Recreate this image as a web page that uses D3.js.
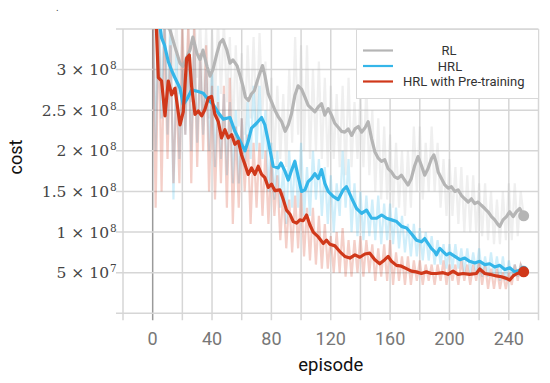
<!DOCTYPE html>
<html>
<head>
<meta charset="utf-8">
<script src="https://cdn.jsdelivr.net/npm/d3@7"></script>
<style>
  body { margin: 0; background: #fff; }
  svg { display: block; }
</style>
</head>
<body>
<script>
// cost values are in units of 1e8
var rawStep = 2; // raw series hold one value every 2 episodes, starting at episode 0

var rlRaw = [3.8, 2.5, 3.7, 2.8, 3.6, 2.7, 3.7, 2.9, 3.6, 2.7, 3.6, 2.6, 3.5, 2.6, 3.7, 2.9, 3.6, 2.5, 3.5, 2.4,
  3.5, 2.6, 3.6, 2.7, 3.6, 2.6, 3.4, 2.2, 3.3, 2.3, 3.2, 2.2, 3.3, 2.4, 3.4, 2.3, 3.45, 2.5, 3.1, 2.0,
  2.9, 1.9, 2.8, 1.9, 2.7, 1.8, 3.0, 2.1, 3.4, 2.2, 3.3, 2.0, 3.3, 1.9, 3.0, 2.0, 3.1, 1.9, 2.9, 1.8,
  2.8, 1.9, 2.7, 1.8, 2.8, 1.7, 2.9, 1.8, 2.6, 1.9, 2.7, 1.8, 2.8, 1.7, 2.5, 1.5, 2.4, 1.4, 2.3, 1.4,
  2.2, 1.3, 2.1, 1.3, 2.0, 1.2, 2.0, 1.3, 2.3, 1.5, 2.3, 1.4, 2.1, 1.5, 2.3, 1.5, 2.1, 1.3, 1.9, 1.2,
  1.9, 1.2, 1.8, 1.1, 1.8, 1.0, 1.7, 1.0, 1.7, 1.0, 1.6, 0.95, 1.6, 0.9, 1.5, 0.85, 1.4, 0.85, 1.5, 0.9,
  1.6, 0.9, 1.6, 0.95, 1.5, 1.2];

var hrlRaw = [3.8, 2.0, 3.6, 2.4, 3.7, 2.2, 3.5, 1.4, 3.2, 1.9, 3.0, 2.2, 3.2, 2.0, 3.3, 2.1, 3.1, 2.2, 3.0, 2.0,
  3.0, 1.8, 2.8, 1.9, 2.7, 1.7, 2.6, 1.6, 2.5, 1.6, 2.4, 1.8, 2.6, 1.9, 2.8, 2.0, 2.8, 1.9, 2.5, 1.5,
  2.1, 1.4, 2.0, 1.3, 1.8, 1.1, 2.0, 1.3, 1.9, 1.3, 2.1, 1.2, 1.8, 1.2, 2.0, 1.4, 1.9, 1.2, 1.8, 1.1,
  1.7, 1.0, 1.6, 1.2, 2.0, 1.3, 1.9, 1.0, 1.6, 0.95, 1.5, 0.9, 1.45, 0.95, 1.4, 0.9, 1.45, 0.85, 1.35, 0.9,
  1.35, 0.85, 1.3, 0.8, 1.2, 0.75, 1.1, 0.7, 1.1, 0.7, 1.05, 0.65, 1.0, 0.65, 0.95, 0.6, 0.9, 0.6, 0.85, 0.55,
  0.85, 0.55, 0.85, 0.55, 0.8, 0.5, 0.8, 0.5, 0.75, 0.5, 0.8, 0.45, 0.7, 0.45, 0.75, 0.45, 0.7, 0.4, 0.7, 0.4,
  0.65, 0.45, 0.6, 0.45, 0.6, 0.55];

var preRaw = [3.8, 1.3, 3.6, 1.5, 3.5, 1.9, 3.3, 1.6, 2.8, 1.6, 3.5, 2.2, 3.6, 1.6, 3.5, 1.8, 3.2, 2.0, 3.3, 1.5,
  2.8, 1.4, 2.6, 1.6, 2.8, 1.3, 2.9, 1.1, 2.3, 1.3, 2.4, 1.5, 2.2, 1.1, 2.1, 1.3, 2.1, 1.2, 2.0, 1.1,
  1.9, 1.2, 1.7, 0.9, 1.5, 0.8, 1.4, 0.75, 1.45, 0.8, 1.5, 0.7, 1.3, 0.65, 1.3, 0.6, 1.2, 0.55, 1.1, 0.55,
  0.95, 0.5, 1.0, 0.5, 1.05, 0.45, 0.9, 0.45, 0.9, 0.5, 0.95, 0.45, 0.9, 0.5, 0.85, 0.4, 0.8, 0.45, 0.85, 0.4,
  0.9, 0.35, 0.75, 0.4, 0.7, 0.35, 0.7, 0.35, 0.65, 0.4, 0.65, 0.35, 0.6, 0.4, 0.6, 0.35, 0.6, 0.4, 0.65, 0.35,
  0.6, 0.4, 0.6, 0.35, 0.65, 0.4, 0.6, 0.35, 0.6, 0.4, 0.65, 0.35, 0.6, 0.3, 0.55, 0.3, 0.55, 0.3, 0.5, 0.3,
  0.5, 0.35, 0.6, 0.4, 0.6, 0.5];

// smoothed curves as [episode, cost]
var rlSmooth = [[7, 3.8], [9, 3.55], [11.6, 3.49], [15, 3.28], [18.4, 3.08], [20.4, 3.04], [23, 3.15], [25.1, 3.24],
  [27.1, 3.40], [29.8, 3.2], [31.9, 3.12], [33.9, 3.24], [36.6, 3.04], [38.6, 2.92], [40.6, 3.0], [43.3, 3.2],
  [45.3, 3.33], [47.3, 3.37], [50, 3.24], [52.1, 3.08], [54.1, 3.12], [56.8, 3.05], [58.8, 2.93], [60.8, 2.80],
  [62.5, 2.66], [64.5, 2.62], [66.5, 2.70], [68.5, 2.74], [70.5, 2.86], [72.3, 2.96], [74, 3.05], [75.7, 2.92],
  [77.9, 2.70], [80.2, 2.60], [82.4, 2.50], [84.6, 2.42], [86.9, 2.36], [89.3, 2.24], [91.4, 2.32], [93.6, 2.46],
  [95.8, 2.68], [98, 2.80], [100.3, 2.76], [102.6, 2.66], [104.8, 2.56], [107.1, 2.52], [109.3, 2.48], [111.6, 2.54],
  [113.8, 2.58], [116, 2.44], [118.3, 2.52], [120.5, 2.44], [122.7, 2.34], [125, 2.29], [127.3, 2.24], [129.5, 2.23],
  [131.8, 2.27], [134.1, 2.19], [136.3, 2.27], [138.6, 2.30], [140.8, 2.23], [143, 2.28], [145.2, 2.36], [147.5, 2.15],
  [149.7, 1.99], [152, 1.91], [154.2, 1.87], [156.4, 1.89], [158.7, 1.78], [160.9, 1.74], [163.1, 1.68], [165.3, 1.66],
  [167.6, 1.70], [169.8, 1.64], [172.1, 1.58], [174.3, 1.66], [176.6, 1.82], [178.8, 1.93], [181.1, 1.82], [183.3, 1.70],
  [185.5, 1.78], [187.8, 1.90], [189.5, 1.95], [191, 1.86], [192.4, 1.74], [194.6, 1.66], [196.9, 1.58], [199.1, 1.54],
  [201.3, 1.56], [203.6, 1.50], [205.8, 1.52], [208.1, 1.45], [210.3, 1.41], [212.6, 1.37], [214.8, 1.41], [217, 1.35],
  [219.3, 1.37], [221.5, 1.33], [223.8, 1.29], [226, 1.25], [228.3, 1.19], [230.5, 1.15], [232.8, 1.09], [233.9, 1.07],
  [236.1, 1.15], [238.4, 1.19], [240.6, 1.25], [242.9, 1.19], [245.1, 1.25], [247.4, 1.29], [250, 1.20]];

var hrlSmooth = [[3, 3.8], [6, 3.39], [8, 3.3], [10.5, 3.1], [13, 2.98], [15, 2.9], [18.4, 2.77], [20.6, 2.57],
  [22.9, 2.63], [26.2, 2.75], [30.7, 2.73], [34.1, 2.71], [37.5, 2.63], [40.8, 2.57], [44.2, 2.47], [47.6, 2.39],
  [52.1, 2.41], [55.4, 2.24], [58.8, 2.12], [62.2, 2.0], [64.4, 2.12], [66.6, 2.28], [70, 2.34], [73.4, 2.41],
  [75.6, 2.32], [77.9, 2.12], [81.2, 1.81], [84.6, 1.79], [86.5, 1.85], [89.1, 1.75], [91.4, 1.64], [93.6, 1.76],
  [95.8, 1.87], [98.1, 1.68], [100.3, 1.50], [102.6, 1.52], [104.8, 1.62], [107.1, 1.66], [109.3, 1.72], [111.6, 1.66],
  [113.8, 1.77], [116, 1.60], [118.3, 1.50], [121.6, 1.44], [125, 1.40], [128.4, 1.52], [130.6, 1.56], [134, 1.42],
  [137.4, 1.29], [140.8, 1.23], [144.1, 1.27], [147.5, 1.17], [150.9, 1.17], [154.3, 1.21], [157.6, 1.17], [161, 1.15],
  [164.4, 1.13], [167.7, 1.07], [171.1, 1.05], [174.4, 0.98], [177.8, 0.90], [181.1, 0.88], [183.3, 0.92], [185.5, 0.86],
  [187.8, 0.80], [190, 0.76], [191.2, 0.72], [193.5, 0.80], [195.7, 0.76], [198, 0.72], [200.2, 0.74], [203.6, 0.70],
  [207, 0.66], [210.3, 0.68], [213.6, 0.64], [217, 0.62], [220.4, 0.64], [223.8, 0.60], [227.1, 0.61], [230.5, 0.57],
  [233.9, 0.59], [237.3, 0.54], [240.6, 0.56], [244, 0.51], [247.4, 0.53], [250, 0.53]];

var preSmooth = [[1, 3.8], [2.5, 3.5], [3.8, 2.9], [6, 2.86], [8.3, 2.43], [10.5, 2.86], [12.8, 2.69], [15, 2.77],
  [18.4, 2.32], [20.6, 2.48], [22.9, 3.14], [24.7, 3.18], [26.2, 2.8], [28.5, 2.45], [30.7, 2.49], [33, 2.43],
  [35.2, 2.51], [37.5, 2.65], [39.7, 2.67], [41.9, 2.45], [44.2, 2.36], [46.4, 2.16], [48.7, 2.26], [50.9, 2.16],
  [53.2, 2.2], [55.4, 2.08], [57.7, 2.12], [59.9, 1.95], [62.2, 1.83], [64.4, 1.71], [66.6, 1.79], [68.9, 1.71],
  [71.1, 1.81], [73.4, 1.71], [75.6, 1.67], [77.9, 1.55], [80.1, 1.59], [82.4, 1.51], [85.7, 1.52], [88, 1.40],
  [90.2, 1.27], [92.5, 1.22], [94.7, 1.13], [97, 1.11], [99.2, 1.15], [101.4, 1.14], [103.7, 1.21], [105.9, 1.09],
  [108.2, 1.0], [111.6, 0.94], [115, 0.86], [117.2, 0.90], [119.4, 0.85], [122.8, 0.83], [126.1, 0.76], [129.5, 0.70],
  [132.9, 0.68], [136.3, 0.72], [139.6, 0.69], [143, 0.73], [146.3, 0.74], [149.7, 0.66], [153, 0.61], [156.4, 0.66],
  [158.7, 0.70], [160.9, 0.64], [164.3, 0.59], [167.6, 0.58], [171, 0.55], [174.3, 0.52], [177.7, 0.51], [181.1, 0.49],
  [184.4, 0.51], [187.8, 0.49], [191.2, 0.49], [195.7, 0.50], [199, 0.48], [202.4, 0.52], [205.8, 0.48], [209.2, 0.49],
  [213.6, 0.48], [218.1, 0.49], [220.4, 0.545], [223.8, 0.49], [227.1, 0.48], [231.6, 0.46], [235, 0.45], [238.4, 0.43],
  [240.6, 0.41], [242.9, 0.46], [245.6, 0.49], [248.5, 0.50], [250, 0.51]];

var seriesNames = ["RL", "HRL", "HRL with Pre-training"];
var seriesColors = ["#b5b5b5", "#35b6e9", "#d0381a"];

var xGridValues = d3.range(-20, 261, 20);
var xTickLabels = [0, 40, 80, 120, 160, 200, 240];
var yTickValues = [0.5, 1, 1.5, 2, 2.5, 3];
var yTickMantissa = ["5", "1", "1.5", "2", "2.5", "3"];
var yTickExponent = ["7", "8", "8", "8", "8", "8"];

var totalWidth = 550;
var totalHeight = 383;
var gridColor = "#d6d6d6";

var svg = d3.select("body").append("svg")
    .attr("width", totalWidth)
    .attr("height", totalHeight)
    .style("font-family", "Roboto, sans-serif");

var xScale = d3.scaleLinear().domain([-20, 260]).range([123, 538.5]);
var yScale = d3.scaleLinear().domain([0, 3.5]).range([313.3, 29]);

//grid lines, they run a bit past the frame as tick marks
svg.append("g").selectAll("line")
    .data(xGridValues)
    .enter()
    .append("line")
    .attr("x1", d => xScale(d))
    .attr("x2", d => xScale(d))
    .attr("y1", yScale(3.5))
    .attr("y2", yScale(0) + 7)
    .attr("stroke", d => d === 0 ? "#9a9a9a" : gridColor)
    .attr("stroke-width", 1.5);

svg.append("g").selectAll("line")
    .data([0].concat(yTickValues, [3.5]))
    .enter()
    .append("line")
    .attr("x1", xScale(-20) - 7)
    .attr("x2", xScale(260))
    .attr("y1", d => yScale(d))
    .attr("y2", d => yScale(d))
    .attr("stroke", gridColor)
    .attr("stroke-width", 1.5);

// y tick labels "m × 10^e"
var yLabels = svg.append("g")
    .style("font-family", "'DejaVu Serif', serif")
    .attr("fill", "#444")
    .selectAll("text")
    .data(yTickValues)
    .enter()
    .append("text")
    .attr("x", 109)
    .attr("y", d => yScale(d) + 5.5)
    .attr("text-anchor", "end")
    .style("font-size", "15.5px");
yLabels.append("tspan").text((d, i) => yTickMantissa[i] + " × 10");
yLabels.append("tspan")
    .attr("x", 110)
    .attr("text-anchor", "start")
    .attr("dy", -6)
    .style("font-size", "10.5px")
    .text((d, i) => yTickExponent[i]);

// x tick labels
svg.append("g").selectAll("text")
    .data(xTickLabels)
    .enter()
    .append("text")
    .attr("x", d => xScale(d))
    .attr("y", 345)
    .attr("text-anchor", "middle")
    .attr("fill", "#777")
    .style("font-size", "18px")
    .text(d => d);

svg.append("text")
    .attr("x", xScale(120))
    .attr("y", 371)
    .attr("text-anchor", "middle")
    .attr("fill", "#111")
    .style("font-size", "18.5px")
    .text("episode");

svg.append("text")
    .attr("transform", "translate(22,157) rotate(-90)")
    .attr("text-anchor", "middle")
    .attr("fill", "#111")
    .style("font-size", "18px")
    .text("cost");

svg.append("text")
    .attr("x", 56)
    .attr("y", 11)
    .attr("fill", "#444")
    .style("font-size", "10px")
    .text(".");

//plot area clip
svg.append("clipPath").attr("id", "plotClip")
    .append("rect")
    .attr("x", xScale(-20))
    .attr("y", yScale(3.5))
    .attr("width", xScale(260) - xScale(-20))
    .attr("height", yScale(0) - yScale(3.5));

var plot = svg.append("g").attr("clip-path", "url(#plotClip)");

var rawLine = d3.line()
    .x((d, i) => xScale(i * rawStep))
    .y(d => yScale(d));
var smoothLine = d3.line()
    .x(d => xScale(d[0]))
    .y(d => yScale(d[1]));

var raws = [rlRaw, hrlRaw, preRaw];
var smooths = [rlSmooth, hrlSmooth, preSmooth];

for (var i = 0; i < raws.length; i++) {
    plot.append("path")
        .attr("d", rawLine(raws[i]))
        .attr("fill", "none")
        .attr("stroke", seriesColors[i])
        .attr("stroke-opacity", i === 0 ? 0.22 : 0.24)
        .attr("stroke-width", 2.2);
}

for (var i = 0; i < smooths.length; i++) {
    plot.append("path")
        .attr("d", smoothLine(smooths[i]))
        .attr("fill", "none")
        .attr("stroke", seriesColors[i])
        .attr("stroke-width", 3.2)
        .attr("stroke-linejoin", "round");
    var last = smooths[i][smooths[i].length - 1];
    svg.append("circle")
        .attr("cx", xScale(last[0]))
        .attr("cy", yScale(last[1]))
        .attr("r", i === 1 ? 4.5 : 5.5)
        .attr("fill", seriesColors[i]);
}

// legend
var legend = svg.append("g");
legend.append("rect")
    .attr("x", 356.5)
    .attr("y", 29.5)
    .attr("width", 182)
    .attr("height", 69)
    .attr("fill", "#fff")
    .attr("stroke", "#d8d8d8");

var legendY = [50.5, 66, 81.5];
var legendTextX = [449, 450, 403];
var legendAnchor = ["middle", "middle", "start"];

seriesNames.forEach((name, i) => {
    legend.append("line")
        .attr("x1", 363)
        .attr("x2", 393)
        .attr("y1", legendY[i])
        .attr("y2", legendY[i])
        .attr("stroke", seriesColors[i])
        .attr("stroke-width", 2.2);
    legend.append("text")
        .attr("x", legendTextX[i])
        .attr("y", legendY[i] + 4.7)
        .attr("text-anchor", legendAnchor[i])
        .attr("fill", "#333")
        .style("font-size", "13px")
        .text(name);
});
</script>
</body>
</html>
